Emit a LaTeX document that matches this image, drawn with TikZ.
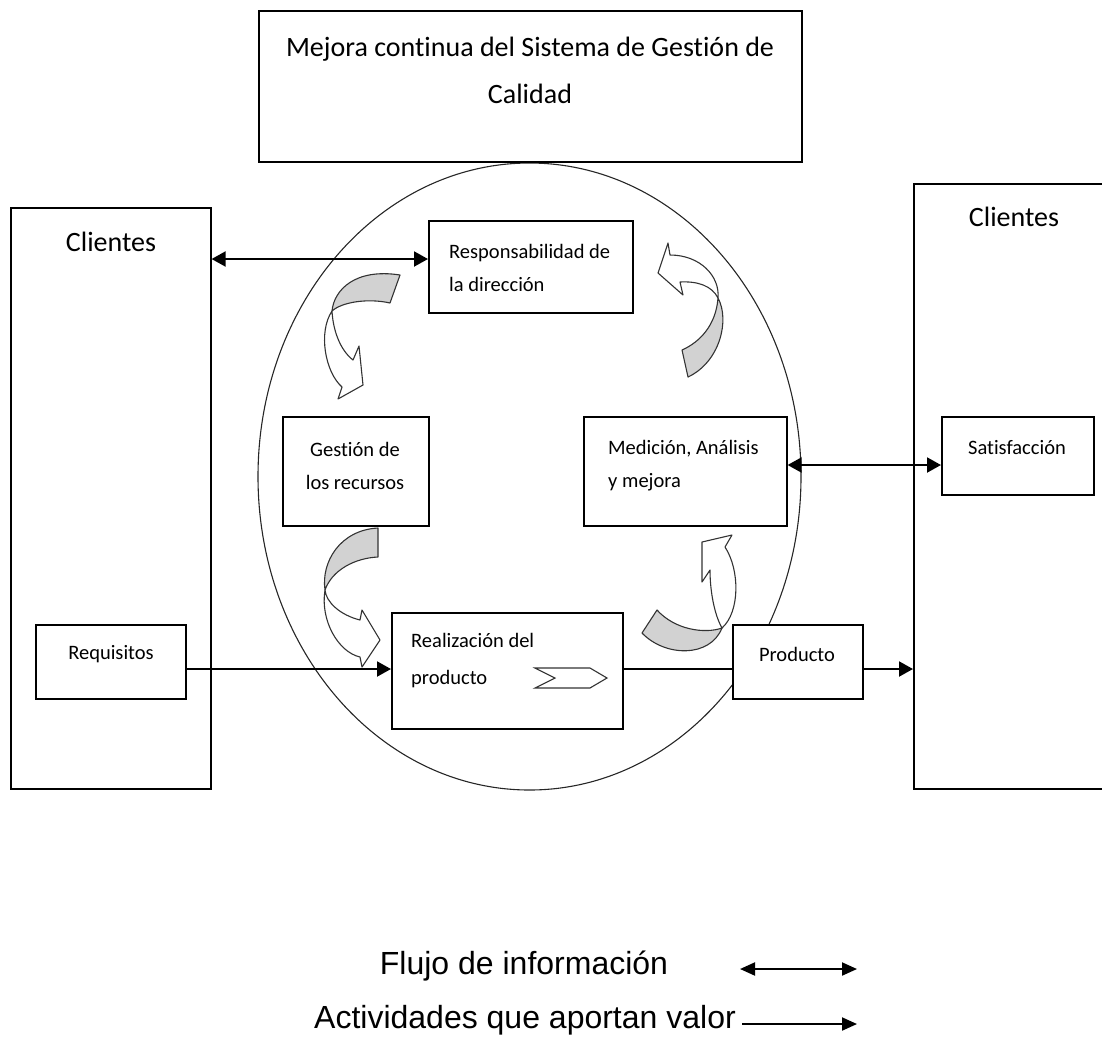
\documentclass[tikz,border=0pt]{standalone}
\usepackage{fontspec}
\setmainfont{Carlito}[Ligatures={NoCommon}]
\newfontfamily\legendfont{Liberation Sans}
\usetikzlibrary{arrows.meta,shapes.geometric}
\begin{document}
\begin{tikzpicture}[x=1pt,y=-1pt,
  box/.style={draw=black, line width=1.6pt, fill=white, rectangle, inner sep=0pt, anchor=north west},
  bigtext/.style={font=\fontsize{28}{47}\selectfont, inner sep=0pt},
  smalltext/.style={font=\fontsize{20.5}{33}\selectfont, inner sep=0pt},
  legendtext/.style={font=\legendfont\fontsize{32}{38}\selectfont, inner sep=0pt},
  flow/.style={line width=2pt, -{Triangle[length=14pt,width=15pt]}},
  info/.style={line width=2pt, {Triangle[length=14pt,width=15pt]}-{Triangle[length=14pt,width=15pt]}},
  plain/.style={line width=2pt},
  shaded/.style={fill=gray!35, draw=black!80, line width=1.1pt, line join=round},
  blank/.style={fill=white, draw=black!80, line width=1.1pt, line join=round}]
\useasboundingbox (0,0) rectangle (1102,1037);
\clip (0,0) rectangle (1102,1037);

% process ring
\node[ellipse, draw=black!85, line width=1.1pt, minimum width=543pt, minimum height=627pt, inner sep=0pt] (ring) at (529.5,476.5) {};

% boxes
\node[box, minimum width=543pt, minimum height=151pt] (title) at (258,10) {};
\node[box, minimum width=200pt, minimum height=581pt] (cliL) at (10,207) {};
\node[box, minimum width=230pt, minimum height=605pt] (cliR) at (913,183) {};
\node[box, minimum width=204pt, minimum height=92pt] (resp) at (428,220) {};
\node[box, minimum width=146pt, minimum height=109pt] (gest) at (282,416) {};
\node[box, minimum width=203pt, minimum height=109pt] (med) at (583,416) {};
\node[box, minimum width=152pt, minimum height=78pt] (sat) at (941,416) {};
\node[box, minimum width=150pt, minimum height=74pt] (req) at (35,624) {};
\node[box, minimum width=231pt, minimum height=116pt] (real) at (391,612) {};
\node[box, minimum width=130pt, minimum height=74pt] (prod) at (732,624) {};

% chevron inside the product realisation box
\draw[line width=1.1pt, black!80, line join=miter]
  (535,668) -- (590,668) -- (607,678) -- (590,688) -- (535,688) -- (555,678) -- cycle;

% curved arrow: management -> resources
\path[shaded] (332,311) .. controls (334,290) and (355,268) .. (400,275)
  -- (390,303) .. controls (368,298) and (342,302) .. (332,311) -- cycle;
\path[blank] (332,311) .. controls (318,332) and (325,372) .. (342,387)
  -- (338,399) -- (363,385) -- (359,346) -- (353,360)
  .. controls (340,350) and (333,330) .. (332,311) -- cycle;

% curved arrow: measurement -> management
\path[shaded] (718,298) .. controls (730,320) and (720,362) .. (688,377)
  -- (682,350) .. controls (700,342) and (716,325) .. (718,298) -- cycle;
\path[blank] (718,298) .. controls (720,276) and (700,255) .. (670,255)
  -- (668,243) -- (658,273) -- (683,295) -- (680,282)
  .. controls (698,281) and (712,286) .. (718,298) -- cycle;

% curved arrow: resources -> product realisation
\path[shaded] (325,590) .. controls (321,562) and (340,530) .. (378,528)
  -- (378,557) .. controls (355,558) and (332,570) .. (325,590) -- cycle;
\path[blank] (325,590) .. controls (320,620) and (338,652) .. (360,657)
  -- (362,667) -- (380,640) -- (362,610) -- (360,620)
  .. controls (340,615) and (326,602) .. (325,590) -- cycle;

% curved arrow: product realisation -> measurement
\path[shaded] (642,633) .. controls (665,657) and (710,658) .. (722,628)
  .. controls (705,634) and (675,630) .. (657,610) -- cycle;
\path[blank] (722,628) .. controls (740,612) and (740,570) .. (725,547)
  -- (732,535) -- (702,542) -- (702,582) -- (710,570)
  .. controls (710,590) and (714,614) .. (722,628) -- cycle;

% connectors
\draw[info] (cliL.east |- 0,259) -- (resp.west |- 0,259);
\draw[info] (med.east |- 0,465) -- (sat.west |- 0,465);
\draw[flow] (req.east |- 0,669) -- (real.west |- 0,669);
\draw[plain] (real.east |- 0,669) -- (prod.west |- 0,669);
\draw[flow] (prod.east |- 0,669) -- (cliR.west |- 0,669);

% texts
\node[bigtext, align=center] (titleT) at (530,70) {Mejora continua del Sistema de Gestión de\\Calidad};
\node[bigtext] (cliLT) at (111,242) {Clientes};
\node[bigtext] (cliRT) at (1014,217) {Clientes};
\node[smalltext, align=left, anchor=west] (respT) at (449,268) {Responsabilidad de\\la dirección};
\node[smalltext, align=center] (gestT) at (355,466) {Gestión de\\los recursos};
\node[smalltext, align=left, anchor=west] (medT) at (608,466) {Medición, Análisis\\y mejora};
\node[smalltext] (satT) at (1017,448) {Satisfacción};
\node[smalltext] (reqT) at (111,654) {Requisitos};
\node[smalltext, align=left, anchor=west, font=\fontsize{20.5}{37}\selectfont] (realT) at (411,661) {Realización del\\producto};
\node[smalltext] (prodT) at (797,654) {Producto};

% legend
\node[legendtext] (legInfo) at (524,966) {Flujo de información};
\node[legendtext] (legVal) at (525,1020) {Actividades que aportan valor};
\coordinate (fa) at (740,969);
\coordinate (fb) at (857,969);
\coordinate (va) at (742,1024);
\coordinate (vb) at (857,1024);
\draw[line width=2pt, {Triangle[length=15pt,width=13pt]}-{Triangle[length=15pt,width=13pt]}] (fa) -- (fb);
\draw[line width=2pt, -{Triangle[length=15pt,width=13pt]}] (va) -- (vb);
\end{tikzpicture}
\end{document}
